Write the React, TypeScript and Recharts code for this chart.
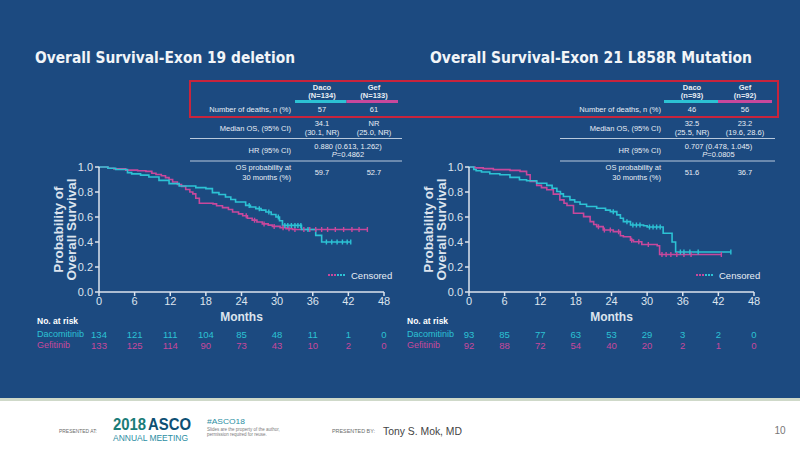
import { ComposedChart, Line, Scatter, XAxis, YAxis } from "recharts";

const BG = "#1c4a80";
const CYAN = "#2cc2d4";
const MAGENTA = "#c8489c";
const AXIS = "#dce4ee";
const TXT = "#e8eef5";
const FONT = "'Liberation Sans', Arial, sans-serif";

const monthTicks = [0, 6, 12, 18, 24, 30, 36, 42, 48];
const survTicks = [0, 0.2, 0.4, 0.6, 0.8, 1.0];

// Exon 19 deletion
const ex19DacoMonths = [0, 1.5, 2.8, 4.8, 5.5, 7, 8.4, 10.1, 11.8, 13.5, 16.3, 18, 19.1, 20.2, 21.3, 22.2, 23, 24.7, 25.5, 26.4, 27.3, 28.1, 29, 29.8, 30.4, 30.9, 34.1, 36.5, 37.5, 42.4];
const ex19DacoSurv = [1, 0.99, 0.98, 0.955, 0.945, 0.935, 0.92, 0.893, 0.867, 0.848, 0.835, 0.827, 0.795, 0.78, 0.76, 0.74, 0.72, 0.693, 0.68, 0.667, 0.655, 0.64, 0.62, 0.6, 0.57, 0.533, 0.5, 0.453, 0.4, 0.4];
const ex19DacoCensored = [25.3, 27, 28.6, 30.2, 31.3, 31.8, 32.4, 33, 33.5, 34, 35.2, 38.3, 39.2, 40.1, 41, 41.8, 42.4];

const ex19GefMonths = [0, 1.5, 2.5, 4.5, 6.5, 7.9, 8.9, 9.6, 10.5, 11.2, 11.8, 12.4, 13.2, 13.9, 14.6, 15.3, 15.8, 16.3, 16.9, 19.2, 19.8, 20.8, 21.8, 22.5, 23.5, 24.2, 25, 25.8, 26.6, 27.5, 28.5, 29.2, 30.5, 31.5, 32.6, 45.2];
const ex19GefSurv = [1, 0.99, 0.985, 0.975, 0.97, 0.965, 0.95, 0.94, 0.93, 0.915, 0.9, 0.88, 0.86, 0.845, 0.82, 0.8, 0.785, 0.75, 0.71, 0.705, 0.69, 0.675, 0.66, 0.64, 0.625, 0.61, 0.59, 0.575, 0.56, 0.545, 0.535, 0.525, 0.515, 0.507, 0.5, 0.5];
const ex19GefCensored = [24.8, 26.2, 27.8, 29.5, 31, 32, 33, 34.5, 35.5, 36.5, 37.5, 38.5, 39.8, 41.2, 42.6, 43.8, 45.2];

// Exon 21 L858R
const l858rDacoMonths = [0, 0.8, 1.2, 2.1, 3.5, 5.2, 6.9, 8.5, 9.7, 11.4, 13.1, 14, 14.8, 15.4, 15.9, 17, 17.8, 18.7, 19.8, 21.5, 23, 23.8, 24.9, 25.5, 26, 27.2, 29.4, 30, 32.7, 34.2, 34.8, 44.1];
const l858rDacoSurv = [1, 0.98, 0.97, 0.96, 0.946, 0.938, 0.917, 0.898, 0.89, 0.87, 0.853, 0.83, 0.804, 0.785, 0.764, 0.737, 0.72, 0.702, 0.684, 0.67, 0.655, 0.643, 0.617, 0.59, 0.563, 0.536, 0.53, 0.52, 0.47, 0.4, 0.32, 0.32];
const l858rDacoCensored = [24.3, 26.6, 27.6, 28.2, 28.8, 30.4, 31, 31.6, 32.2, 35.6, 36.2, 37.2, 38.6, 44.1];

const l858rGefMonths = [0, 1, 2.4, 4.1, 6.9, 8.6, 9.7, 10.3, 11.4, 12.2, 13.1, 14.2, 15.3, 16, 16.5, 17.6, 19.3, 20.4, 21, 21.5, 22.6, 24.3, 25.5, 26, 27.2, 27.7, 29.1, 31.7, 32.1, 42.5];
const l858rGefSurv = [1, 0.993, 0.987, 0.979, 0.973, 0.965, 0.938, 0.885, 0.853, 0.835, 0.818, 0.783, 0.737, 0.71, 0.692, 0.63, 0.603, 0.563, 0.54, 0.523, 0.496, 0.483, 0.45, 0.442, 0.415, 0.402, 0.38, 0.37, 0.3, 0.3];
const l858rGefCensored = [21.8, 22.8, 23.8, 25.2, 27.4, 28.6, 30.2, 32.5, 33.2, 34, 35, 36.2, 37.4, 42.5];

// numbers at risk
const ex19DacoAtRisk = [134, 121, 111, 104, 85, 48, 11, 1, 0];
const ex19GefAtRisk = [133, 125, 114, 90, 73, 43, 10, 2, 0];
const l858rDacoAtRisk = [93, 85, 77, 63, 53, 29, 3, 2, 0];
const l858rGefAtRisk = [92, 88, 72, 54, 40, 20, 2, 1, 0];

// summary tables
const ex19Header = [["Daco", "(N=134)"], ["Gef", "(N=133)"]];
const ex19Deaths = ["57", "61"];
const ex19Median = [["34.1", "(30.1, NR)"], ["NR", "(25.0, NR)"]];
const ex19HR = ["0.880 (0.613, 1.262)", "0.4862"];
const ex19OS30 = ["59.7", "52.7"];

const l858rHeader = [["Daco", "(n=93)"], ["Gef", "(n=92)"]];
const l858rDeaths = ["46", "56"];
const l858rMedian = [["32.5", "(25.5, NR)"], ["23.2", "(19.6, 28.6)"]];
const l858rHR = ["0.707 (0.478, 1.045)", "0.0805"];
const l858rOS30 = ["51.6", "36.7"];

const toSteps = (months: number[], surv: number[]) => months.map((m, i) => ({ m, s: surv[i] }));
const survAt = (months: number[], surv: number[], t: number) => {
  let v = surv[0];
  months.forEach((m, i) => {
    if (m <= t) v = surv[i];
  });
  return v;
};
const toCensors = (months: number[], surv: number[], cens: number[]) =>
  cens.map((m) => ({ m, s: survAt(months, surv, m) }));

const PLOT_W = 285;
const PLOT_H = 125;

const tick = (color: string) => (props: any) => {
  const { cx, cy } = props;
  if (cx == null || cy == null) return <g />;
  return <line x1={cx} x2={cx} y1={cy - 2.5} y2={cy + 2.5} stroke={color} strokeWidth={1.4} />;
};

function KMChart({ x, y, daco, gef }: { x: number; y: number; daco: any; gef: any }) {
  const padL = 60;
  const padT = 10;
  const padR = 16;
  const padB = 20;
  return (
    <div style={{ position: "absolute", left: x - padL, top: y - padT }}>
      <ComposedChart
        width={padL + PLOT_W + padR}
        height={padT + PLOT_H + padB}
        margin={{ top: padT, right: padR, left: 0, bottom: 0 }}
      >
        <XAxis
          type="number"
          dataKey="m"
          domain={[0, 48]}
          ticks={monthTicks}
          height={padB}
          stroke={AXIS}
          strokeWidth={1.5}
          tickSize={4}
          tickMargin={1}
          tick={{ fill: AXIS, fontSize: 11, fontFamily: FONT }}
          allowDataOverflow
        />
        <YAxis
          type="number"
          dataKey="s"
          domain={[0, 1]}
          ticks={survTicks}
          width={padL}
          stroke={AXIS}
          strokeWidth={1.5}
          tickSize={4}
          tickMargin={2}
          tickFormatter={(v: number) => v.toFixed(1)}
          tick={{ fill: AXIS, fontSize: 11, fontFamily: FONT }}
        />
        <Line data={gef.steps} dataKey="s" type="stepAfter" stroke={MAGENTA} strokeWidth={1.6} dot={false} isAnimationActive={false} />
        <Line data={daco.steps} dataKey="s" type="stepAfter" stroke={CYAN} strokeWidth={1.6} dot={false} isAnimationActive={false} />
        <Scatter data={gef.cens} dataKey="s" shape={tick(MAGENTA)} isAnimationActive={false} />
        <Scatter data={daco.cens} dataKey="s" shape={tick(CYAN)} isAnimationActive={false} />
      </ComposedChart>
    </div>
  );
}

function T({ x, y, children, size = 7.5, anchor = "middle", bold = false, fill = TXT, italic = false, tl }: any) {
  return (
    <text
      x={x}
      y={y}
      fontSize={size}
      textAnchor={anchor}
      dominantBaseline="central"
      fontWeight={bold ? "bold" : "normal"}
      fontStyle={italic ? "italic" : "normal"}
      fill={fill}
      fontFamily={FONT}
      textLength={tl}
      lengthAdjust={tl ? "spacingAndGlyphs" : undefined}
    >
      {children}
    </text>
  );
}

function SummaryTable({ lx, c1, c2, barL, barR, lineL, lineR, header, deaths, median, hr, os30 }: any) {
  const mid = (c1 + c2) / 2;
  const barMid = (barL + barR) / 2;
  return (
    <g>
      {[c1, c2].map((c, i) => (
        <g key={i}>
          <T x={c} y={87} bold>{header[i][0]}</T>
          <T x={c} y={95} bold>{header[i][1]}</T>
          <T x={c} y={109}>{deaths[i]}</T>
          <T x={c} y={123}>{median[i][0]}</T>
          <T x={c} y={132}>{median[i][1]}</T>
          <T x={c} y={172}>{os30[i]}</T>
        </g>
      ))}
      <rect x={barL} y={100} width={barMid - barL} height={3} fill={CYAN} />
      <rect x={barMid} y={100} width={barR - barMid} height={3} fill={MAGENTA} />
      <T x={lx} y={109} anchor="end">Number of deaths, n (%)</T>
      <T x={lx} y={128} anchor="end">Median OS, (95% CI)</T>
      <line x1={lineL} x2={lineR} y1={138.5} y2={138.5} stroke="#b9c9dc" strokeWidth={1} />
      <T x={lx} y={150} anchor="end">HR (95% CI)</T>
      <T x={mid} y={146}>{hr[0]}</T>
      <text x={mid} y={154} fontSize={7.5} textAnchor="middle" dominantBaseline="central" fill={TXT} fontFamily={FONT}>
        <tspan fontStyle="italic">P</tspan>={hr[1]}
      </text>
      <line x1={lineL} x2={lineR} y1={161} y2={161} stroke="#b9c9dc" strokeWidth={1} />
      <T x={lx} y={167} anchor="end">OS probability at</T>
      <T x={lx} y={177} anchor="end">30 months (%)</T>
    </g>
  );
}

function PlotDecor({ px, atRiskX, daco, gef, legX }: any) {
  const cy = 167 + PLOT_H / 2;
  return (
    <g>
      <g transform={`rotate(-90, ${px - 41}, ${cy})`}>
        <T x={px - 41} y={cy} size={13.5} bold fill={AXIS}>Probability of</T>
      </g>
      <g transform={`rotate(-90, ${px - 28}, ${cy})`}>
        <T x={px - 28} y={cy} size={13.5} bold fill={AXIS}>Overall Survival</T>
      </g>
      <T x={px + PLOT_W / 2} y={317} size={12} bold fill={AXIS}>Months</T>
      <line x1={legX} x2={legX + 9} y1={275} y2={275} stroke={MAGENTA} strokeWidth={2.2} strokeDasharray="2 1" />
      <line x1={legX + 9} x2={legX + 17} y1={275} y2={275} stroke={CYAN} strokeWidth={2.2} strokeDasharray="2 1" />
      <T x={legX + 23} y={275} size={9.5} anchor="start" fill={TXT}>Censored</T>
      <T x={atRiskX} y={321} size={8.5} anchor="start" bold fill="#ffffff">No. at risk</T>
      <T x={atRiskX} y={334} size={9} anchor="start" fill={CYAN}>Dacomitinib</T>
      <T x={atRiskX} y={345} size={9} anchor="start" fill={MAGENTA}>Gefitinib</T>
      {monthTicks.map((m, i) => (
        <g key={m}>
          <T x={px + (m / 48) * PLOT_W} y={334} size={9.5} fill={CYAN}>{daco[i]}</T>
          <T x={px + (m / 48) * PLOT_W} y={345} size={9.5} fill={MAGENTA}>{gef[i]}</T>
        </g>
      ))}
    </g>
  );
}

export default function App() {
  const ex19Daco = { steps: toSteps(ex19DacoMonths, ex19DacoSurv), cens: toCensors(ex19DacoMonths, ex19DacoSurv, ex19DacoCensored) };
  const ex19Gef = { steps: toSteps(ex19GefMonths, ex19GefSurv), cens: toCensors(ex19GefMonths, ex19GefSurv, ex19GefCensored) };
  const l858rDaco = { steps: toSteps(l858rDacoMonths, l858rDacoSurv), cens: toCensors(l858rDacoMonths, l858rDacoSurv, l858rDacoCensored) };
  const l858rGef = { steps: toSteps(l858rGefMonths, l858rGefSurv), cens: toCensors(l858rGefMonths, l858rGefSurv, l858rGefCensored) };

  return (
    <div style={{ position: "fixed", left: 0, top: 0, width: 800, height: 450, background: BG, overflow: "hidden", fontFamily: FONT }}>
      <KMChart x={99} y={167} daco={ex19Daco} gef={ex19Gef} />
      <KMChart x={469} y={167} daco={l858rDaco} gef={l858rGef} />
      <svg width={800} height={450} style={{ position: "absolute", left: 0, top: 0, pointerEvents: "none" }}>
        <text x={35} y={57} fontSize={16} fontWeight="bold" fill="#f2f5f8" fontFamily="'DejaVu Sans', sans-serif" dominantBaseline="central" textLength={260} lengthAdjust="spacingAndGlyphs">
          Overall Survival-Exon 19 deletion
        </text>
        <text x={430} y={57} fontSize={16} fontWeight="bold" fill="#f2f5f8" fontFamily="'DejaVu Sans', sans-serif" dominantBaseline="central" textLength={322} lengthAdjust="spacingAndGlyphs">
          Overall Survival-Exon 21 L858R Mutation
        </text>

        <SummaryTable lx={291} c1={322} c2={374} barL={295} barR={398} lineL={190} lineR={402}
          header={ex19Header} deaths={ex19Deaths} median={ex19Median} hr={ex19HR} os30={ex19OS30} />
        <SummaryTable lx={661} c1={692} c2={745} barL={664} barR={772} lineL={560} lineR={775}
          header={l858rHeader} deaths={l858rDeaths} median={l858rMedian} hr={l858rHR} os30={l858rOS30} />
        <rect x={190} y={81} width={588} height={36} fill="none" stroke="#c8243c" strokeWidth={2} />

        <PlotDecor px={99} atRiskX={37} daco={ex19DacoAtRisk} gef={ex19GefAtRisk} legX={328} />
        <PlotDecor px={469} atRiskX={407} daco={l858rDacoAtRisk} gef={l858rGefAtRisk} legX={696} />

        <rect x={0} y={398} width={800} height={3} fill="#cfd9c9" />
        <rect x={0} y={401} width={800} height={49} fill="#ffffff" />
        <T x={59} y={431} size={5.5} anchor="start" fill="#6b6b6b" tl={38}>PRESENTED AT:</T>
        <text x={113} y={430} fontSize={16} fontWeight="bold" fontFamily={FONT} textLength={78} lengthAdjust="spacingAndGlyphs">
          <tspan fill="#1a7c78">2018</tspan>
          <tspan fill="#0d4f74" dx={2}>ASCO</tspan>
        </text>
        <text x={113} y={441} fontSize={9} fill="#2a8ea3" fontFamily={FONT} textLength={75} lengthAdjust="spacingAndGlyphs">ANNUAL MEETING</text>
        <text x={207} y={424} fontSize={8} fill="#2a8ea3" fontFamily={FONT} textLength={38} lengthAdjust="spacingAndGlyphs">#ASCO18</text>
        <text x={207} y={431} fontSize={4.5} fill="#7a7a7a" fontFamily={FONT}>Slides are the property of the author,</text>
        <text x={207} y={436} fontSize={4.5} fill="#7a7a7a" fontFamily={FONT}>permission required for reuse.</text>
        <T x={332} y={431} size={5.5} anchor="start" fill="#6b6b6b" tl={43}>PRESENTED BY:</T>
        <T x={383} y={431} size={11} anchor="start" fill="#444444" tl={79}>Tony S. Mok, MD</T>
        <T x={780} y={430} size={10} fill="#777777">10</T>
      </svg>
    </div>
  );
}
